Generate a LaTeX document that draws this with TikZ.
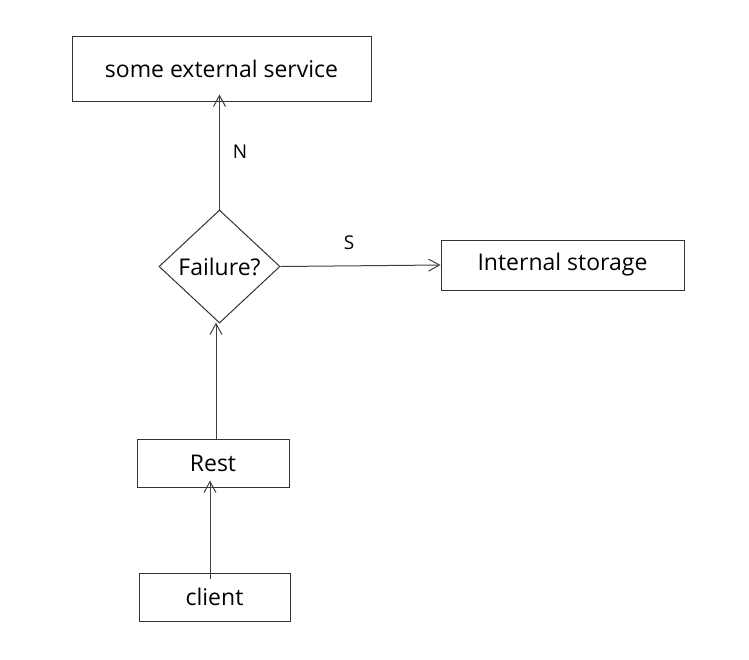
\documentclass[tikz,border=0pt]{standalone}
\usepackage{fontspec}
\setmainfont{Open Sans}
\usetikzlibrary{shapes.geometric,arrows.meta}
\begin{document}
\begin{tikzpicture}[x=1pt,y=-1pt,
  box/.style={draw=black!80,line width=1pt,rectangle,inner sep=0pt,font=\fontsize{23}{27}\selectfont},
  dia/.style={draw=black!80,line width=1pt,diamond,inner sep=0pt,minimum width=121pt,minimum height=113pt,font=\fontsize{23}{27}\selectfont},
  conn/.style={draw=black!75,line width=1pt,-{Straight Barb[length=11pt,width=12pt]}},
  lbl/.style={font=\fontsize{19}{22}\selectfont}]
\useasboundingbox (0,0) rectangle (749,659);
\node[box,minimum width=299pt,minimum height=65pt] (ext) at (221.5,68.5) {some external service};
\node[dia] (fail) at (219.5,266.5) {Failure?};
\node[box,minimum width=243pt,minimum height=50pt] (int) at (562.5,265) {Internal storage};
\node[box,minimum width=152pt,minimum height=48pt] (rest) at (213,463) {Rest};
\node[box,minimum width=151pt,minimum height=48pt] (client) at (214.5,597) {client};
\draw[conn] (fail.north) -- ([yshift=7pt]ext.south -| fail.north);
\draw[conn] (fail.east) -- (int.west);
\draw[conn] (rest.north -| 216,0) -- ([yshift=1pt]fail.south -| 216,0);
\draw[conn] ([yshift=-6pt]client.north -| 210,0) -- ([yshift=7pt]rest.south -| 210,0);
\node[lbl] (nlab) at (240,152) {N};
\node[lbl] (slab) at (349,243) {S};
\end{tikzpicture}
\end{document}
